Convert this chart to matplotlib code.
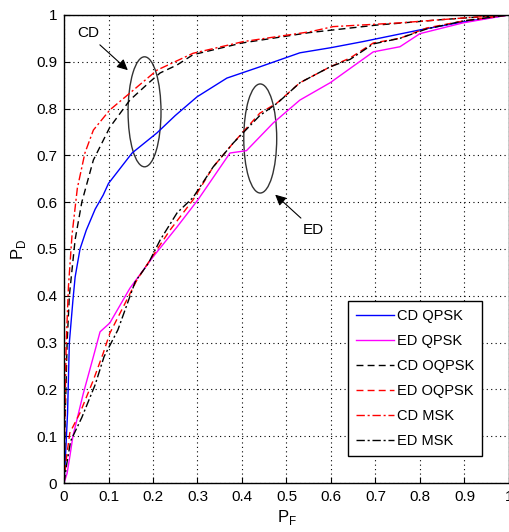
import matplotlib.pyplot as plt
from matplotlib.patches import Ellipse

plt.rcParams["font.family"] = ["Liberation Sans", "DejaVu Sans"]

# P_F / P_D points
cd_qpsk_pf = [0, 0.003, 0.008, 0.012, 0.02, 0.025, 0.036, 0.05, 0.07, 0.088, 0.10, 0.153,
              0.209, 0.25, 0.299, 0.366, 0.44, 0.53, 0.60, 0.672, 0.80, 0.897, 1.0]
cd_qpsk_pd = [0, 0.05, 0.15, 0.30, 0.39, 0.44, 0.50, 0.54, 0.585, 0.615, 0.64, 0.705,
              0.748, 0.785, 0.825, 0.865, 0.889, 0.919, 0.930, 0.943, 0.968, 0.985, 1.0]

cd_oqpsk_pf = [0, 0.003, 0.007, 0.012, 0.025, 0.04, 0.066, 0.103, 0.148, 0.193, 0.216,
               0.254, 0.29, 0.40, 0.55, 0.70, 0.85, 1.0]
cd_oqpsk_pd = [0, 0.15, 0.30, 0.40, 0.52, 0.60, 0.69, 0.76, 0.818, 0.857, 0.876,
               0.893, 0.915, 0.940, 0.962, 0.978, 0.990, 1.0]

cd_msk_pf = [0, 0.002, 0.005, 0.01, 0.018, 0.03, 0.047, 0.066, 0.103, 0.148, 0.209,
             0.29, 0.403, 0.553, 0.605, 0.755, 0.905, 1.0]
cd_msk_pd = [0, 0.15, 0.30, 0.42, 0.53, 0.63, 0.705, 0.754, 0.797, 0.833, 0.882,
             0.918, 0.943, 0.964, 0.975, 0.983, 0.994, 1.0]

ed_qpsk_pf = [0, 0.007, 0.013, 0.02, 0.043, 0.066, 0.081, 0.103, 0.148, 0.20, 0.254,
              0.301, 0.373, 0.41, 0.47, 0.53, 0.598, 0.695, 0.755, 0.80, 0.897, 1.0]
ed_qpsk_pd = [0, 0.021, 0.056, 0.10, 0.19, 0.27, 0.323, 0.342, 0.416, 0.483, 0.547,
              0.605, 0.705, 0.71, 0.769, 0.818, 0.855, 0.921, 0.932, 0.960, 0.983, 1.0]

ed_oqpsk_pf = [0, 0.005, 0.013, 0.036, 0.066, 0.088, 0.103, 0.126, 0.164, 0.193, 0.238,
               0.29, 0.335, 0.38, 0.44, 0.479, 0.53, 0.598, 0.643, 0.695, 0.755, 0.815,
               0.897, 1.0]
ed_oqpsk_pd = [0, 0.05, 0.107, 0.15, 0.22, 0.277, 0.32, 0.363, 0.434, 0.476, 0.54,
               0.605, 0.675, 0.726, 0.79, 0.812, 0.855, 0.889, 0.908, 0.94, 0.95, 0.972,
               0.987, 1.0]

ed_msk_pf = [0, 0.006, 0.015, 0.04, 0.07, 0.09, 0.121, 0.16, 0.19, 0.216, 0.254, 0.29,
             0.335, 0.38, 0.44, 0.48, 0.53, 0.598, 0.643, 0.695, 0.755, 0.815, 0.897, 1.0]
ed_msk_pd = [0, 0.04, 0.09, 0.14, 0.21, 0.27, 0.327, 0.43, 0.47, 0.519, 0.577, 0.61,
             0.675, 0.726, 0.785, 0.812, 0.855, 0.889, 0.905, 0.938, 0.95, 0.970,
             0.987, 1.0]

ticks = [i / 10 for i in range(11)]
tick_labels = ["0", "0.1", "0.2", "0.3", "0.4", "0.5", "0.6", "0.7", "0.8", "0.9", "1"]

fig = plt.figure(figsize=(5.10, 5.32), dpi=100)
ax = fig.add_axes([0.1255, 0.092, 0.8725, 0.880])

ax.plot(cd_qpsk_pf, cd_qpsk_pd, color="blue", lw=1.0, label="CD QPSK")
ax.plot(ed_qpsk_pf, ed_qpsk_pd, color="magenta", lw=1.0, label="ED QPSK")
ax.plot(cd_oqpsk_pf, cd_oqpsk_pd, color="black", lw=1.0, ls=(0, (5, 3)), label="CD OQPSK")
ax.plot(ed_oqpsk_pf, ed_oqpsk_pd, color="red", lw=1.0, ls=(0, (5, 3)), label="ED OQPSK")
ax.plot(cd_msk_pf, cd_msk_pd, color="red", lw=1.0, ls=(0, (6, 2, 1.5, 2)), label="CD MSK")
ax.plot(ed_msk_pf, ed_msk_pd, color="black", lw=1.0, ls=(0, (6, 2, 1.5, 2)), label="ED MSK")

ax.set_xlim(0, 1)
ax.set_ylim(0, 1)
ax.set_xticks(ticks)
ax.set_xticklabels(tick_labels)
ax.set_yticks(ticks)
ax.set_yticklabels(tick_labels)
ax.tick_params(direction="in", length=4, labelsize=11, pad=5)
ax.grid(True, color="black", ls=(0, (1, 3)), lw=0.8)
for s in ax.spines.values():
    s.set_linewidth(1.0)

ax.set_xlabel("P$_\\mathregular{F}$", fontsize=12, labelpad=3)
ax.set_ylabel("P$_\\mathregular{D}$", fontsize=12, labelpad=6)

# annotations
ax.add_patch(Ellipse((0.181, 0.793), 0.074, 0.235, fill=False, ec="#333333", lw=1.0))
ax.add_patch(Ellipse((0.441, 0.736), 0.074, 0.233, fill=False, ec="#333333", lw=1.0))
ax.text(0.054, 0.962, "CD", fontsize=11, ha="center", va="center")
ax.text(0.56, 0.54, "ED", fontsize=11, ha="center", va="center")
ax.annotate("", xy=(0.148, 0.878), xytext=(0.076, 0.94),
            arrowprops=dict(arrowstyle="-|>", color="black", lw=0.8, mutation_scale=16))
ax.annotate("", xy=(0.47, 0.62), xytext=(0.537, 0.562),
            arrowprops=dict(arrowstyle="-|>", color="black", lw=0.8, mutation_scale=16))

leg = ax.legend(loc="lower left", bbox_to_anchor=(0.638, 0.058), borderaxespad=0,
                fontsize=10.5, fancybox=False, edgecolor="black", framealpha=1,
                handlelength=2.6, handletextpad=0.2, labelspacing=0.75,
                borderpad=0.55)
leg.get_frame().set_linewidth(1.0)

fig.savefig("out.png", dpi=100)
